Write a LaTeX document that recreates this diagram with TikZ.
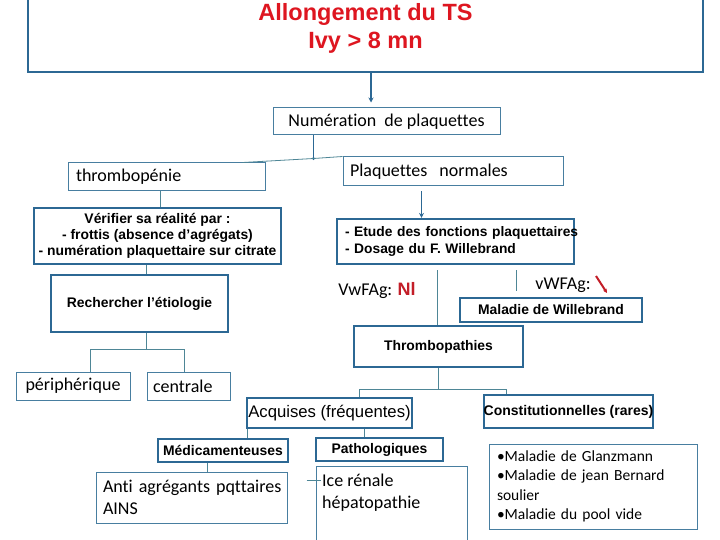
\documentclass[tikz,border=0pt]{standalone}
\usepackage{fontspec}
\setmainfont{Carlito}[Ligatures={NoCommon}]
\newfontfamily\arialfam{Liberation Sans}
\usetikzlibrary{arrows.meta,calc}
\definecolor{bordc}{RGB}{44,104,148}
\definecolor{thinc}{RGB}{72,126,160}
\definecolor{linec}{RGB}{78,134,150}
\definecolor{titler}{RGB}{222,22,32}
\definecolor{nlred}{RGB}{195,30,40}
\newcommand\mybox[7]{%
  \pgfmathsetmacro\myCX{(#3+#5)/2}\pgfmathsetmacro\myCY{(#4+#6)/2}%
  \pgfmathsetmacro\myBW{#5-#3}\pgfmathsetmacro\myBH{#6-#4}%
  \node[#1, minimum width=\myBW pt, minimum height=\myBH pt] (#2) at (\myCX,\myCY) {#7};}
\tikzset{
  thickbox/.style={draw=bordc, line width=2.2pt, inner sep=0pt, fill=white},
  thinbox/.style={draw=thinc, line width=1pt, inner sep=0pt, fill=white},
  conn/.style={draw=linec, line width=0.8pt},
  arr/.style={draw=bordc, line width=1.6pt, -{Stealth[length=5pt,width=5pt]}},
  boldtxt/.style={font=\arialfam\bfseries\fontsize{13.9}{16}\selectfont},
  carl/.style={font=\fontsize{18}{22}\selectfont},
}
\begin{document}
\begin{tikzpicture}[x=1pt,y=-1pt]
\fill[white] (0,0) rectangle (720,540);
\useasboundingbox (0,0) rectangle (720,540);

% top
\mybox{thickbox}{top}{28}{-3}{703}{72}{}
\node[font=\arialfam\bfseries\fontsize{23.5}{28}\selectfont, text=titler, align=center] (title) at (365.5,28) {Allongement du TS\\Ivy > 8 mn};

\mybox{thinbox,carl}{num}{273}{108}{500}{135}{Numération\ \ de plaquettes}
\mybox{thinbox,carl,text width=181pt,align=left}{tp}{68}{163}{265}{191}{thrombopénie}
\mybox{thinbox,carl,text width=206pt,align=left}{pn}{343}{157}{563}{186}{Plaquettes\ \ normales}

\mybox{thickbox,boldtxt,align=center}{vf}{34}{208}{281}{264}{Vérifier sa réalité par :\\- frottis (absence d’agrégats)\\- numération plaquettaire sur citrate}
\mybox{thickbox,boldtxt}{re}{51}{275}{228}{332}{Rechercher l’étiologie}
\mybox{thinbox,carl}{pe}{16}{372}{130}{400}{périphérique}
\mybox{thinbox,carl,text width=71pt,align=left}{ce}{147}{372}{230}{400}{centrale}

\mybox{thickbox,text width=221pt,align=left,font=\arialfam\bfseries\fontsize{13.8}{17}\selectfont}{et}{337}{219}{574}{264}{\mbox{- Etude des fonctions plaquettaires}\\\mbox{- Dosage du F. Willebrand}}

\node[carl] (vw1) at (377,291) {VwFAg: {\arialfam\bfseries\color{nlred}Nl}};
\node[carl] (vw2) at (563,285) {vWFAg:};

\mybox{thickbox,boldtxt}{ma}{460}{298}{642}{322}{Maladie de Willebrand}
\mybox{thickbox,boldtxt}{th}{354}{326}{523}{367}{Thrombopathies}

\mybox{thickbox}{ac}{247}{398}{412}{428}{}
\node[font=\arialfam\fontsize{16.7}{18}\selectfont] (act) at (ac.center) {Acquises (fréquentes)};
\mybox{thickbox}{co}{484}{395}{653}{428}{}
\node[font=\arialfam\bfseries\fontsize{14}{16}\selectfont] (cot) at (co.center) {Constitutionnelles (rares)};

\mybox{thickbox,boldtxt}{md}{158}{439}{288}{462}{Médicamenteuses}
\mybox{thickbox,boldtxt}{pa}{316}{438}{443}{461}{Pathologiques}

\mybox{thinbox,carl,text width=177pt,align=left}{an}{96}{472}{287}{523}{\mbox{Anti agrégants pqttaires}\\\mbox{AINS}}
\mybox{thinbox}{ic}{316}{466}{467}{548}{}
\node[carl,anchor=north west,align=left,inner sep=0pt] (ict) at (322,474) {Ice rénale\\hépatopathie};
\mybox{thinbox,font=\fontsize{15.5}{19.3}\selectfont,text width=192pt,align=left}{gl}{489}{444}{697}{529}{\mbox{•Maladie de Glanzmann}\\\mbox{•Maladie de jean Bernard}\\soulier\\\mbox{•Maladie du pool vide}}

% connectors
\coordinate (a0) at ($(top.south)+(5.5,0)$);
\draw[arr,shorten >=5pt] (a0) -- (num.north -| a0);
\coordinate (j1) at ($(num.south west)+(41,23)$);
\draw[draw=bordc,line width=1.4pt] ($(num.south west)+(41,0)$) -- (j1);
\fill[bordc] (j1) circle (1.6pt);
\draw[conn] (j1) -- ($(tp.north west)+(175,0)$);
\draw[conn] (j1) -- (pn.north west);
\coordinate (a1) at ($(pn.south west)+(79,5)$);
\draw[arr,shorten >=0pt] (a1) -- (et.north -| a1);

\coordinate (c1) at ($(tp.south west)+(93,0)$);
\draw[conn] (c1) -- (vf.north -| c1);
\coordinate (c2) at ($(vf.south west)+(113,0)$);
\draw[conn] (c2) -- (re.north -| c2);
\coordinate (c3) at ($(re.south west)+(96,0)$);
\coordinate (j3) at ($(c3)+(0,16)$);
\draw[conn] (c3) -- (j3);
\draw[conn] ($(pe.north west)+(75,0)$) |- (j3);
\draw[conn] ($(ce.north west)+(38,0)$) |- (j3);

\coordinate (c4) at ($(et.south west)+(101,5)$);
\draw[conn] (c4) -- (th.north -| c4);
\coordinate (c5) at ($(et.south west)+(180,5)$);
\draw[conn] (c5) -- ($(ma.north -| c5)+(0,-6)$);

\coordinate (j6) at ($(th.south)+(0,21)$);
\draw[conn] (th.south) -- (j6);
\draw[conn] ($(ac.north west)+(113,0)$) |- (j6);
\draw[conn] ($(co.north west)+(23,0)$) |- (j6);

\coordinate (c7) at ($(ac.south west)+(1,0)$);
\draw[conn] (c7) -- (md.north -| c7);
\coordinate (c8) at ($(ac.south west)+(118,0)$);
\draw[conn] (c8) -- (pa.north -| c8);
\coordinate (c9) at ($(md.south west)+(50,0)$);
\draw[conn] (c9) -- (an.north -| c9);
\coordinate (tk) at ($(ic.north west)+(-9,15)$);
\draw[conn] (tk) -- ($(tk -| ic.west)+(5,0)$);

\coordinate (ra) at (596,276);
\draw[draw=nlred,line width=2pt,-{Stealth[length=4pt,width=4pt]}] (ra) -- ++(11,17);
\end{tikzpicture}
\end{document}
